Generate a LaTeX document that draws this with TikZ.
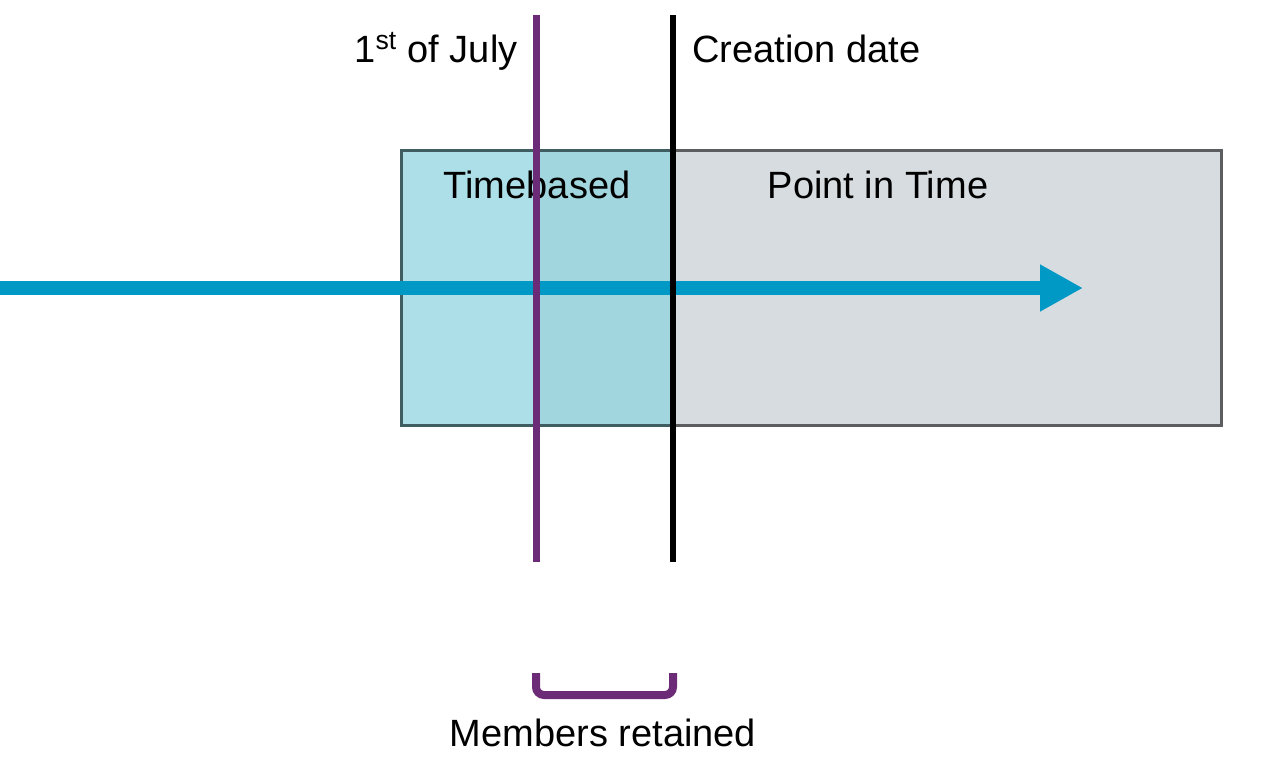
\documentclass[tikz,border=0pt]{standalone}
\usepackage{fontspec}
\setmainfont{Liberation Sans}
\usetikzlibrary{arrows.meta}
\definecolor{tbfill}{HTML}{ACDFE7}
\definecolor{retfill}{HTML}{A2D6DE}
\definecolor{tbborder}{HTML}{405E62}
\definecolor{pitfill}{HTML}{D6DCDF}
\definecolor{pitborder}{HTML}{5B5D5F}
\definecolor{flowblue}{HTML}{0099C6}
\definecolor{julypurple}{HTML}{6C2B76}

\begin{document}
\begin{tikzpicture}[x=0.5pt,y=-0.5pt,
    txt/.style={font=\fontsize{19}{23}\selectfont, inner sep=0pt},
    box/.style={draw, line width=1.5pt, minimum width=#1, minimum height=137.5pt, inner sep=0pt},
    flow/.style={draw=flowblue, line width=7pt, -{Triangle[length=21.5pt,width=22pt]}},
    marker/.style={line width=3.5pt}]
      \useasboundingbox (0,0) rectangle (1264,777);

      % boxes
      \node[box=274pt, draw=pitborder, fill=pitfill] (pit) at (947,287.5) {};
      \node[box=136pt, draw=tbborder, fill=tbfill] (tb) at (537,287.5) {};
      \node[fill=retfill, inner sep=0pt, minimum width=68.5pt, minimum height=136pt] (ret) at (604.5,287.5) {};

      \node[txt, anchor=base] (tbl) at (537,198) {Timebased};
      \node[txt, anchor=base] (pitl) at (878,198) {Point in Time};

      % time axis
      \coordinate (start) at (0,288);
      \coordinate (end) at (1083,288);
      \draw[flow] (start) -- (end);

      % dates
      \coordinate (julytop) at (536,15);
      \coordinate (julybot) at (536,562);
      \coordinate (cdtop) at (673,15);
      \coordinate (cdbot) at (673,562);
      \draw[marker, julypurple] (julytop) -- (julybot);
      \draw[marker, black, line width=3pt] (cdtop) -- (cdbot);

      \node[txt, anchor=base east] (july) at (518,62) {1\textsuperscript{st} of July};
      \node[txt, anchor=base west] (cd) at (692,62) {Creation date};

      % bracket
      \coordinate (bl) at (536,673);
      \coordinate (br) at (673,673);
      \draw[marker, julypurple, line width=4pt, rounded corners=4pt] (bl) -- ++(0,22) -| (br);
      \node[txt, anchor=base] (mem) at (603,746) {Members retained};
    \end{tikzpicture}
\end{document}
